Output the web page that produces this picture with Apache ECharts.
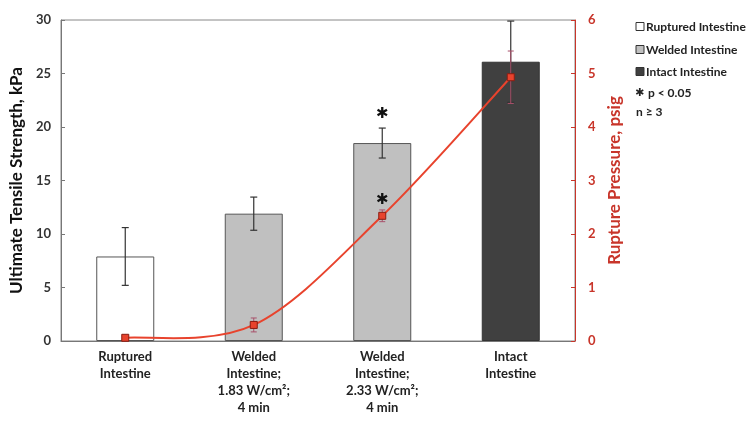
<!DOCTYPE html>
<html><head><meta charset="utf-8">
<script src="https://cdn.jsdelivr.net/npm/echarts@6/dist/echarts.min.js"></script>
<style>html,body{margin:0;padding:0;background:#fff}#c{width:754px;height:424px}</style>
</head><body><div id="c"></div>
<script>
const categories = ['Ruptured\nIntestine', 'Welded\nIntestine;\n1.83 W/cm²;\n4 min', 'Welded\nIntestine;\n2.33 W/cm²;\n4 min', 'Intact\nIntestine'];
const strength = [7.9, 11.9, 18.5, 26.1];
const strengthErr = [2.7, 1.55, 1.4, 3.8];
const pressure = [0.06, 0.3, 2.34, 4.93];
const pressureErr = [0.05, 0.13, 0.11, 0.49];
const significant = [2];
const legendNames = ['Ruptured Intestine', 'Welded Intestine', 'Intact Intestine'];
const leftTicks = [0, 5, 10, 15, 20, 25, 30];
const rightTicks = [0, 1, 2, 3, 4, 5, 6];

const FONT = 'Lato';
const barFill = ['#ffffff', '#c0c0c0', '#404040'];
const barFillIdx = [0, 1, 1, 2];
const RED = '#e8432d';
const AXRED = '#c8352a';

const barData = strength.map((v, i) => ({
  value: v,
  itemStyle: { color: barFill[barFillIdx[i]], borderColor: i === 3 ? '#333' : '#555', borderWidth: 1 }
}));
const barErrData = strength.map((v, i) => [i, v - strengthErr[i], v + strengthErr[i]]);
const lineErrData = pressure.map((v, i) => [i, v - pressureErr[i], v + pressureErr[i]]);

function errRender(color, cap, lw) {
  return function (params, api) {
    const x = api.value(0);
    const lo = api.coord([x, api.value(1)]);
    const hi = api.coord([x, api.value(2)]);
    const st = { stroke: color, lineWidth: lw };
    return { type: 'group', children: [
      { type: 'line', shape: { x1: lo[0], y1: lo[1], x2: hi[0], y2: hi[1] }, style: st },
      { type: 'line', shape: { x1: lo[0] - cap, y1: lo[1], x2: lo[0] + cap, y2: lo[1] }, style: st },
      { type: 'line', shape: { x1: hi[0] - cap, y1: hi[1], x2: hi[0] + cap, y2: hi[1] }, style: st }
    ]};
  };
}

// Excel-style smoothed curve through the pressure points (coordinates from the axes)
function curveRender(params, api) {
  if (params.dataIndex !== 0) return null;
  const pts = pressure.map((v, i) => api.coord([i, v]));
  const d = [];
  d.push('M' + pts[0][0] + ' ' + pts[0][1]);
  for (let i = 0; i < pts.length - 1; i++) {
    const p0 = pts[Math.max(i - 1, 0)], p1 = pts[i], p2 = pts[i + 1], p3 = pts[Math.min(i + 2, pts.length - 1)];
    const c1 = [p1[0] + (p2[0] - p0[0]) / 6, p1[1] + (p2[1] - p0[1]) / 6];
    const c2 = [p2[0] - (p3[0] - p1[0]) / 6, p2[1] - (p3[1] - p1[1]) / 6];
    d.push('C' + c1[0] + ' ' + c1[1] + ' ' + c2[0] + ' ' + c2[1] + ' ' + p2[0] + ' ' + p2[1]);
  }
  return { type: 'path', shape: { pathData: d.join(' ') }, style: { fill: null, stroke: RED, lineWidth: 2 } };
}

const sigBar = significant.map(i => [i, strength[i] + strengthErr[i]]);
const sigLine = significant.map(i => [i, pressure[i]]);
function starRender(offset) {
  return function (params, api) {
    const p = api.coord([api.value(0), api.value(1)]);
    return { type: 'text', style: { text: '✱', x: p[0], y: p[1] - offset, align: 'center', verticalAlign: 'middle',
      font: 'bold 15px "DejaVu Sans"', fill: '#111' } };
  };
}

const legendGraphics = [];
const lx = 636, ly = [27, 50, 72];
legendNames.forEach((n, i) => {
  legendGraphics.push({ type: 'rect', shape: { x: lx, y: ly[i] - 4.5, width: 8, height: 8 },
    style: { fill: barFill[i], stroke: '#333', lineWidth: 1 } });
  legendGraphics.push({ type: 'text', style: { text: n, x: lx + 10, y: ly[i], verticalAlign: 'middle',
    font: 'bold 12px ' + FONT, fill: '#222' } });
});
legendGraphics.push({ type: 'text', style: { text: '✱', x: lx - 1, y: 93, verticalAlign: 'middle', font: 'bold 11px "DejaVu Sans"', fill: '#222' } });
legendGraphics.push({ type: 'text', style: { text: 'p < 0.05', x: lx + 12, y: 93, verticalAlign: 'middle', font: 'bold 12px ' + FONT, fill: '#222' } });
legendGraphics.push({ type: 'text', style: { text: 'n ≥ 3', x: lx, y: 112, verticalAlign: 'middle', font: 'bold 12px ' + FONT, fill: '#222' } });

const chart = echarts.init(document.getElementById('c'), null, { renderer: 'canvas' });
chart.setOption({
  animation: false,
  backgroundColor: '#fff',
  textStyle: { fontFamily: FONT },
  grid: { left: 61, right: 179, top: 20, bottom: 83, show: true, borderColor: '#888', borderWidth: 1 },
  xAxis: {
    type: 'category', data: categories,
    axisLine: { lineStyle: { color: '#777' } },
    axisTick: { show: false },
    axisLabel: { fontWeight: 'bold', fontSize: 13, color: '#222', lineHeight: 17, margin: 7, interval: 0 }
  },
  yAxis: [{
    type: 'value', min: leftTicks[0], max: leftTicks[leftTicks.length - 1], interval: leftTicks[1] - leftTicks[0],
    name: 'Ultimate Tensile Strength, kPa', nameLocation: 'middle', nameGap: 33,
    nameTextStyle: { fontWeight: 'bold', fontSize: 17, color: '#111', fontFamily: FONT },
    axisLine: { show: true, lineStyle: { color: '#777' } },
    axisTick: { show: true, inside: true, length: 4, lineStyle: { color: '#777' } },
    axisLabel: { fontWeight: 'bold', fontSize: 13, color: '#333', margin: 10 },
    splitLine: { show: false }
  }, {
    type: 'value', position: 'right', min: rightTicks[0], max: rightTicks[rightTicks.length - 1], interval: rightTicks[1] - rightTicks[0],
    name: 'Rupture Pressure, psig', nameLocation: 'middle', nameGap: 24,
    nameTextStyle: { fontWeight: 'bold', fontSize: 17, color: AXRED, fontFamily: FONT },
    axisLine: { show: true, lineStyle: { color: AXRED } },
    axisTick: { show: true, inside: true, length: 4, lineStyle: { color: AXRED } },
    axisLabel: { fontWeight: 'bold', fontSize: 13, color: AXRED, margin: 13 },
    splitLine: { show: false }
  }],
  series: [
    { type: 'bar', data: barData, barWidth: 58, z: 2 },
    { type: 'custom', renderItem: errRender('#333', 3.5, 1.2), data: barErrData, z: 3 },
    { type: 'custom', yAxisIndex: 1, renderItem: errRender('#a8506a', 3, 1), data: lineErrData, z: 4 },
    { type: 'custom', yAxisIndex: 1, renderItem: curveRender, data: pressure.map((v, i) => [i, v]), z: 5 },
    { type: 'line', yAxisIndex: 1, data: pressure, symbol: 'rect', symbolSize: 7,
      lineStyle: { width: 0, opacity: 0 }, itemStyle: { color: RED, borderColor: '#8a1c12', borderWidth: 1 }, z: 6 },
    { type: 'custom', renderItem: starRender(14), data: sigBar, z: 6 },
    { type: 'custom', yAxisIndex: 1, renderItem: starRender(16), data: sigLine, z: 6 }
  ],
  graphic: legendGraphics
});
</script></body></html>
